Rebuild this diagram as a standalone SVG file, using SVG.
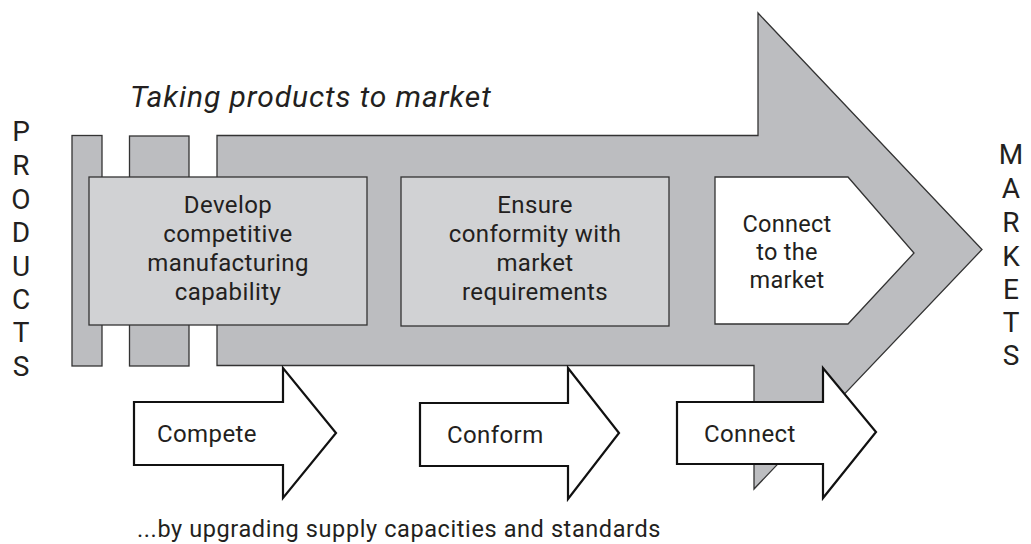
<svg xmlns="http://www.w3.org/2000/svg" width="1031" height="544" viewBox="0 0 1031 544">
<style>
text { font-family: Roboto, "Liberation Sans", sans-serif; fill: #231f20; }
.dark { fill: #bcbdc0; stroke: #333; stroke-width: 1.3; }
.light { fill: #d1d2d4; stroke: #333; stroke-width: 1.3; }
.white { fill: #ffffff; stroke: #333; stroke-width: 1.3; }
.small { fill: #ffffff; stroke: #111; stroke-width: 2.2; stroke-linejoin: miter; }
.box { font-size: 24px; text-anchor: middle; letter-spacing: 0.4px; }
.box3 { font-size: 23.5px; text-anchor: middle; letter-spacing: 0.3px; }
.lbl { font-size: 24px; letter-spacing: 0.4px; }
.vert { font-size: 28px; text-anchor: middle; }
</style>
<rect width="1031" height="544" fill="#ffffff"/>
<g id="main-arrow">
<rect class="dark" x="72" y="135.5" width="30" height="230.5"/>
<rect class="dark" x="129.5" y="136" width="59.5" height="230"/>
<path class="dark" d="M217 135.5 H758 V13 L982 249.5 L754 489 V365.5 H217 Z"/>
</g>
<g id="box-develop">
<rect class="light" x="89" y="177" width="278" height="148"/>
<text class="box"><tspan x="228" y="213">Develop</tspan><tspan x="228" y="242">competitive</tspan><tspan x="228" y="271">manufacturing</tspan><tspan x="228" y="300">capability</tspan></text>
</g>
<g id="box-ensure">
<rect class="light" x="401" y="177" width="268" height="149"/>
<text class="box"><tspan x="535" y="213">Ensure</tspan><tspan x="535" y="242">conformity with</tspan><tspan x="535" y="271">market</tspan><tspan x="535" y="300">requirements</tspan></text>
</g>
<g id="box-connect">
<path class="white" d="M715 177 H848 L914 253 L848 324 H715 Z"/>
<text class="box3"><tspan x="787" y="232">Connect</tspan><tspan x="787" y="260">to the</tspan><tspan x="787" y="288">market</tspan></text>
</g>
<g id="connectors">
<path id="arrow-compete" class="small" d="M134 402 H283 V368 L336 433 L283 498 V465 H134 Z"/>
<path id="arrow-conform" class="small" d="M420 403 H568 V368 L619 433 L568 499 V466 H420 Z"/>
<path id="arrow-connect" class="small" d="M677 402 H823 V368 L876 432 L823 498 V464 H677 Z"/>
</g>
<g id="labels">
<text class="lbl" x="157" y="442">Compete</text>
<text class="lbl" x="447" y="443">Conform</text>
<text class="lbl" x="704" y="442">Connect</text>
<text x="130" y="107" font-size="30" font-style="italic" letter-spacing="0.9">Taking products to market</text>
<text x="137" y="537" font-size="23.5" letter-spacing="0.6">...by upgrading supply capacities and standards</text>
</g>
<g id="products">
<text class="vert"><tspan x="21" y="141">P</tspan><tspan x="21" y="175">R</tspan><tspan x="21" y="209">O</tspan><tspan x="21" y="242">D</tspan><tspan x="21" y="276">U</tspan><tspan x="21" y="309">C</tspan><tspan x="21" y="342">T</tspan><tspan x="21" y="376">S</tspan></text>
</g>
<g id="markets">
<text class="vert"><tspan x="1011" y="164">M</tspan><tspan x="1011" y="198">A</tspan><tspan x="1011" y="232">R</tspan><tspan x="1011" y="266">K</tspan><tspan x="1011" y="299">E</tspan><tspan x="1011" y="332">T</tspan><tspan x="1011" y="365">S</tspan></text>
</g>
</svg>
